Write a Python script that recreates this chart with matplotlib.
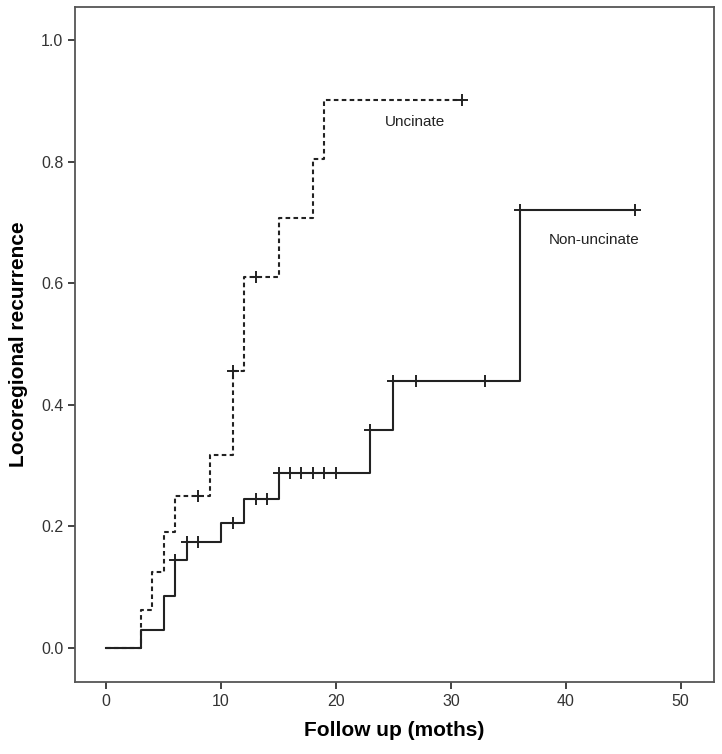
import numpy as np
import matplotlib.pyplot as plt

plt.rcParams['font.family'] = ['Liberation Sans', 'DejaVu Sans']

# step curves: time where the curve jumps and the level after the jump
non_times = [0, 3, 5, 6, 7, 10, 12, 15, 23, 25, 36]
non_levels = [0.0, 0.03, 0.086, 0.144, 0.174, 0.206, 0.245, 0.287, 0.359, 0.439, 0.72]
non_censor = [6, 7, 8, 11, 13, 14, 15, 16, 17, 18, 19, 20, 23, 25, 27, 33, 36, 46]
non_end = 46

unc_times = [3, 4, 5, 6, 9, 11, 12, 15, 18, 19]
unc_levels = [0.0625, 0.125, 0.19, 0.25, 0.318, 0.456, 0.61, 0.708, 0.804, 0.901]
unc_censor = [8, 11, 13, 31]
unc_end = 31


def level_at(times, levels, t):
    idx = np.searchsorted(times, t, side='right') - 1
    return np.array(levels)[idx]


fig = plt.figure(figsize=(7.22, 7.54), dpi=100)
ax = fig.add_axes([0.104, 0.0955, 0.885, 0.895])

col = '#222222'

# Non-uncinate (solid)
xs = non_times + [non_end]
ys = non_levels + [non_levels[-1]]
ax.step(xs, ys, where='post', color=col, lw=1.5)
ax.plot(non_censor, level_at(non_times, non_levels, non_censor), '+',
        color=col, ms=8, mew=1.4)

# Uncinate (dashed), starts at 0 from time 0 together with the other curve
xs = [0] + unc_times + [unc_end]
ys = [0.0] + unc_levels + [unc_levels[-1]]
ax.step(xs, ys, where='post', color=col, lw=1.5, linestyle=(0, (2.2, 1.6)))
ax.plot(unc_censor, level_at(unc_times, unc_levels, unc_censor), '+',
        color=col, ms=8, mew=1.4)

ax.text(26.9, 0.865, 'Uncinate', fontsize=11, ha='center', va='center', color=col)
ax.text(42.5, 0.671, 'Non-uncinate', fontsize=11, ha='center', va='center', color=col)

ax.set_xlim(-2.7, 52.9)
ax.set_ylim(-0.056, 1.054)
ax.set_xticks([0, 10, 20, 30, 40, 50])
ax.set_yticks([0.0, 0.2, 0.4, 0.6, 0.8, 1.0])
ax.set_yticklabels(['0.0', '0.2', '0.4', '0.6', '0.8', '1.0'])
ax.tick_params(direction='out', length=5, width=1.2, labelsize=11.5, colors=col)
ax.tick_params(labelcolor='#333333')

for s in ax.spines.values():
    s.set_color('#555555')
    s.set_linewidth(1.3)

ax.set_xlabel('Follow up (moths)', fontsize=15, fontweight='bold', labelpad=9)
ax.set_ylabel('Locoregional recurrence', fontsize=15, fontweight='bold', labelpad=9)

fig.savefig('out.png', dpi=100)
